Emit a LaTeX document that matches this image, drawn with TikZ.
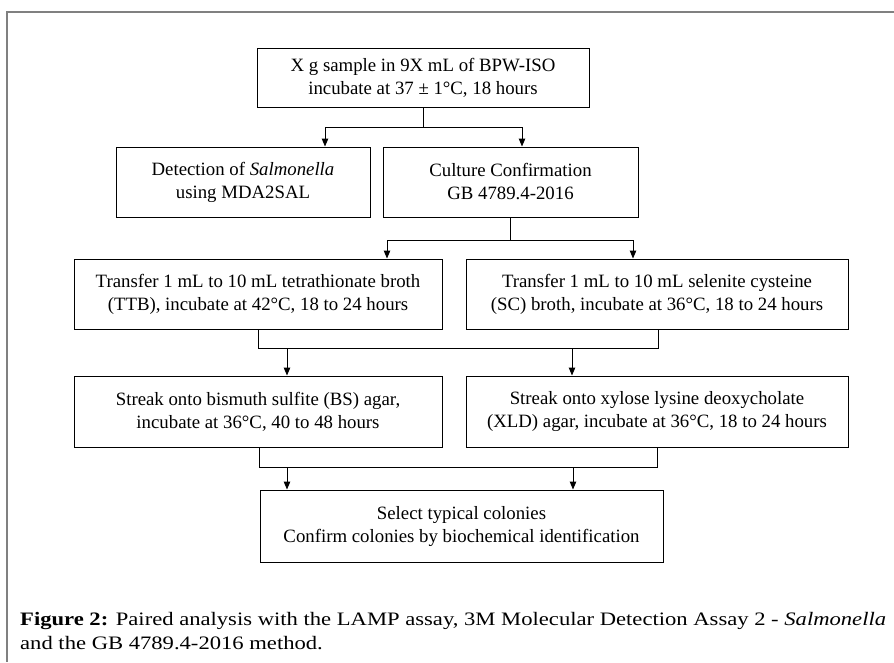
\documentclass[tikz,border=0pt]{standalone}
\usepackage{fontspec}
\setmainfont{Liberation Serif}
\newfontfamily\capfont[FakeStretch=1.19]{Liberation Serif}
\usetikzlibrary{arrows.meta}
\begin{document}
\begin{tikzpicture}[x=1pt,y=-1pt,
  box/.style={draw=black,line width=1pt,inner sep=0pt,align=center,font=\fontsize{18.8}{23}\selectfont},
  conn/.style={line width=1pt,draw=black},
  arr/.style={conn,-{Triangle[length=8pt,width=6.5pt]}},
  captxt/.style={anchor=west,inner sep=0pt,font=\capfont\fontsize{19}{22}\selectfont}]
\useasboundingbox (0,0) rectangle (894,662);
\fill[white] (0,0) rectangle (894,662);
% frame
\draw[line width=2pt,draw=black!50] (894,12) -- (7,12) -- (7,662);
% nodes
\node[box,minimum width=332pt,minimum height=59pt] (top) at (423,77.5) {X g sample in 9X mL of BPW-ISO\\incubate at 37 ± 1°C, 18 hours};
\node[box,minimum width=254pt,minimum height=70pt] (det) at (243,182) {Detection of \textit{Salmonella}\\using MDA2SAL};
\node[box,minimum width=255pt,minimum height=70pt] (cul) at (510.5,182) {Culture Confirmation\\GB 4789.4-2016};
\node[box,minimum width=368pt,minimum height=70pt] (ttb) at (258,294) {Transfer 1 mL to 10 mL tetrathionate broth\\(TTB), incubate at 42°C, 18 to 24 hours};
\node[box,minimum width=382pt,minimum height=70pt] (sc) at (657,294) {Transfer 1 mL to 10 mL selenite cysteine\\(SC) broth, incubate at 36°C, 18 to 24 hours};
\node[box,minimum width=368pt,minimum height=71pt] (bs) at (258,411.5) {Streak onto bismuth sulfite (BS) agar,\\incubate at 36°C, 40 to 48 hours};
\node[box,minimum width=382pt,minimum height=71pt] (xld) at (657,411.5) {Streak onto xylose lysine deoxycholate\\(XLD) agar, incubate at 36°C, 18 to 24 hours};
\node[box,minimum width=403pt,minimum height=72pt] (fin) at (461.5,526) {Select typical colonies\\Confirm colonies by biochemical identification};
% junction coordinates
\coordinate (j1) at (423,127);
\coordinate (j1l) at (325,127);
\coordinate (j1r) at (522,127);
\coordinate (j2) at (510,240);
\coordinate (j2l) at (387,240);
\coordinate (j2r) at (633,240);
\coordinate (j3l) at (258,348);
\coordinate (j3r) at (658,348);
\coordinate (j3a) at (287,348);
\coordinate (j3b) at (572,348);
\coordinate (j4l) at (259,467);
\coordinate (j4r) at (657,467);
\coordinate (j4a) at (287,467);
\coordinate (j4b) at (573,467);
% connectors
\draw[conn] (top.south) -- (j1);
\draw[conn] (j1l) -- (j1r);
\draw[arr] (j1l) -- (j1l |- det.north);
\draw[arr] (j1r) -- (j1r |- cul.north);
\draw[conn] (cul.south -| j2) -- (j2);
\draw[conn] (j2l) -- (j2r);
\draw[arr] (j2l) -- (j2l |- ttb.north);
\draw[arr] (j2r) -- (j2r |- sc.north);
\draw[conn] (ttb.south -| j3l) -- (j3l) -- (j3r) -- (sc.south -| j3r);
\draw[arr] (j3a) -- (j3a |- bs.north);
\draw[arr] (j3b) -- (j3b |- xld.north);
\draw[conn] (bs.south -| j4l) -- (j4l) -- (j4r) -- (xld.south -| j4r);
\draw[arr] (j4a) -- (j4a |- fin.north);
\draw[arr] (j4b) -- (j4b |- fin.north);
% caption
\node[captxt] (cap1) at (20,621) {\textbf{Figure 2:} Paired analysis with the LAMP assay, 3M Molecular Detection Assay 2 - \textit{Salmonella}};
\node[captxt] (cap2) at (20,643) {and the GB 4789.4-2016 method.};
\end{tikzpicture}
\end{document}
